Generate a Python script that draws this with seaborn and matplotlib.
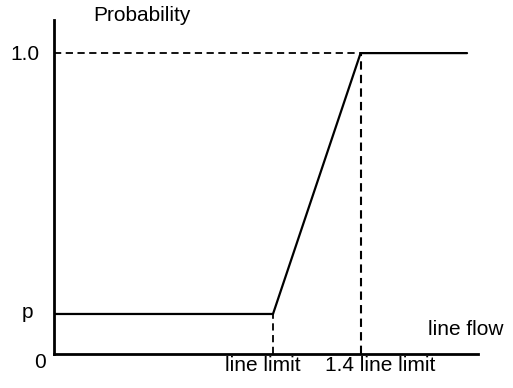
import matplotlib
matplotlib.use("Agg")
import matplotlib.pyplot as plt
import seaborn as sns
import pandas as pd

sns.set_theme(style="white")
plt.rcParams['font.family'] = ['Liberation Sans', 'DejaVu Sans']
plt.rcParams['text.color'] = 'black'

# data (x in units of line limit)
flow = [0.0, 1.0, 1.4, 1.886]
prob = [0.133, 0.133, 1.0, 1.0]
p_val = 0.133
x_ticks = [1.0, 1.4]
x_labels = ["line limit", "1.4 line limit"]
y_labels = ["0", "p", "1.0"]

W, H = 513, 388
fig = plt.figure(figsize=(W / 100, H / 100), dpi=100)
ax = fig.add_axes([54 / W, (H - 354) / H, (478 - 54) / W, (354 - 20) / H])

df = pd.DataFrame({"flow": flow, "prob": prob})
sns.lineplot(data=df, x="flow", y="prob", ax=ax, color="black", linewidth=1.6, sort=False)

# dashed guides
dash = (0, (4, 2.5))
ax.plot([0, x_ticks[1]], [1.0, 1.0], color="black", linestyle=dash, linewidth=1.3)
ax.plot([x_ticks[0], x_ticks[0]], [0, p_val], color="black", linestyle=dash, linewidth=1.3)
ax.plot([x_ticks[1], x_ticks[1]], [0, 1.0], color="black", linestyle=dash, linewidth=1.5)

ax.set_xlim(0, 1.936)
ax.set_ylim(0, 1.11)
ax.set_xticks([])
ax.set_yticks([])
ax.set_xlabel("")
ax.set_ylabel("")
for s in ["top", "right"]:
    ax.spines[s].set_visible(False)
for s in ["left", "bottom"]:
    ax.spines[s].set_color("black")
    ax.spines[s].set_linewidth(2)

fs = 15
kw = dict(fontsize=fs, clip_on=False, va="baseline", color="black")
# y labels
ax.text(-0.064, 0.977, y_labels[2], ha="right", **kw)
ax.text(-0.096, 0.12, y_labels[1], ha="right", **kw)
ax.text(-0.035, -0.0465, y_labels[0], ha="right", **kw)
# x labels
ax.text(0.954, -0.0565, x_labels[0], ha="center", **kw)
ax.text(1.49, -0.0565, x_labels[1], ha="center", **kw)
ax.text(1.881, 0.063, "line flow", ha="center", **kw)
ax.text(0.40, 1.106, "Probability", ha="center", **kw)

fig.savefig("out.png", dpi=100, facecolor="white")
